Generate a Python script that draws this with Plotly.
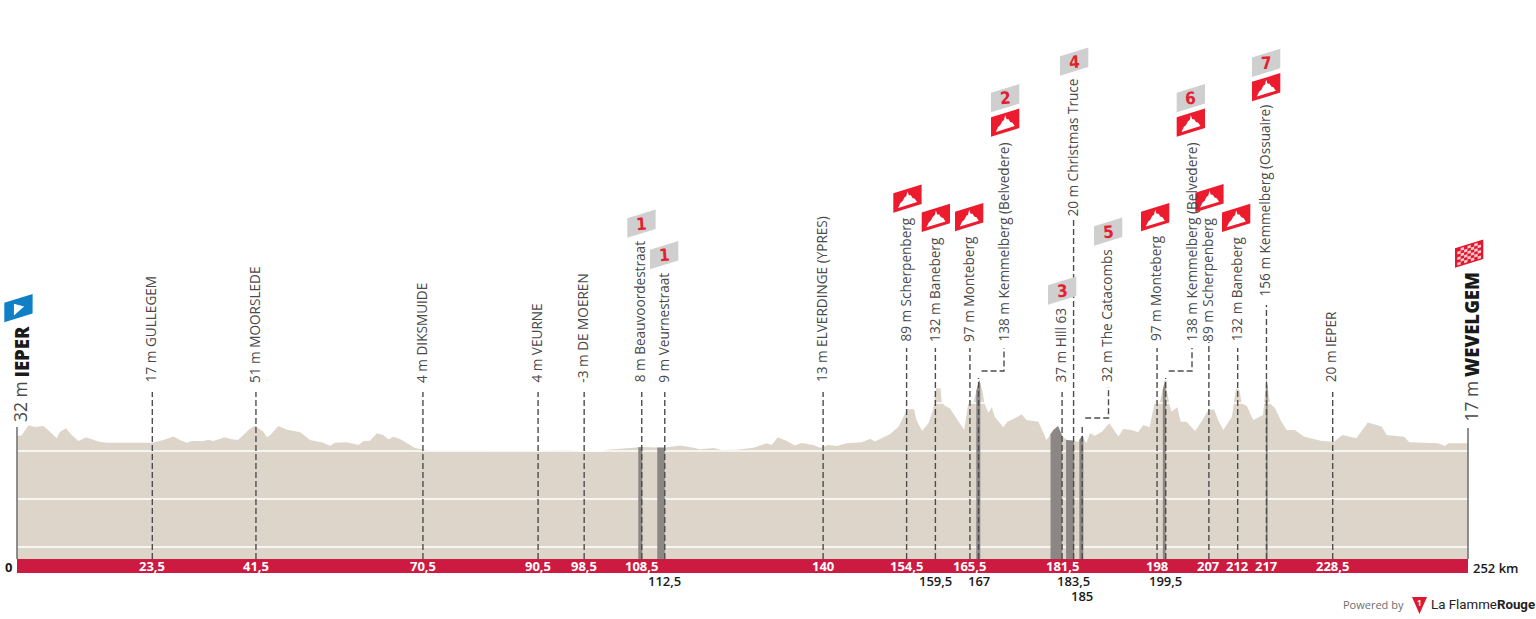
import plotly.graph_objects as go

# ---------- data ----------
profile_km = [0,0.8,2,3.1,4.6,5.4,6.9,7.4,8.5,9.5,10.7,12,14.1,15.6,21.4,23.5,25.4,27.2,28.3,29.5,30.3,32.4,33.2,34.1,36.1,37.3,38.4,40.2,41.3,42.8,43.4,44,45.4,46.8,49.2,50.9,53.2,54.4,55.2,57.3,59.3,60.2,61.3,62.5,63.6,64.5,65.4,66.5,68,69.1,70.3,71.7,83.9,90.5,95.5,98.4,101.3,102.4,105.9,108.5,112.3,115.2,117.5,118.6,121,122.4,125,127.9,130.2,131.1,132.1,133.7,135.1,136.3,138.3,139.5,140.9,142.4,144.1,146.7,148.2,149,
 151.6,153.1,154.6,155.8,156.2,157.2,158.3,159.1,159.6,160.4,160.6,161.2,162,163.2,164.5,165.2,165.5,166.1,166.8,167.1,167.7,168,168.7,169.3,169.8,171.3,172,173.3,174.5,175.3,177.4,178.8,180,180.8,181.4,182.3,183.6,184.3,185,185.7,186.35,187.2,188.4,189.7,191.3,192.1,193.6,194.7,195.6,196.7,197.6,198.5,199.4,200.1,200.5,201.5,202.1,203.1,204.6,205.7,206.9,207.9,208.6,209.5,211,211.7,212.3,212.7,213.6,214.7,216.4,217,217.6,218.5,219.6,220.5,221.9,
 223.6,226.6,228.7,230.2,232.6,234.6,237,237.9,240.9,241.8,246.8,248,248.6,252]
profile_m = [31,33,53.5,50,52,44,26.5,39,47.3,33.4,21,28.6,20,17.4,17.4,17,23,30,23,17.4,21,21,23.6,21,28.6,24.4,23,43.8,53,40,28.6,33.4,52,45,39,23,17.4,11,17.4,18,12.5,21,21.5,37,33.4,24.4,29.7,25,14.7,6.3,3.5,0.7,0,0,2,-2,-2,2.8,5.6,8.3,7,11.2,7,3.5,6.4,2.2,2.8,7,16,12.5,28.6,21,11.2,16.7,12.5,7,12.5,10.4,16,18,25.4,20,
 34.7,50.7,86.8,86.8,64.6,42.4,57.6,85.4,130.5,130.5,101.4,93.7,88.9,68,43.8,99.3,106,100.7,134,148,123.6,99.3,79.9,91,71.5,49.3,61,68,76.4,64.6,61,23,43.8,52,33.3,23,21.5,19,33,16,37,32,40,57.6,30,45.8,43.8,39,54,49.3,102.8,102.8,148,99.3,82,91,61,61,41.7,61,85.4,86.8,64.6,43.8,71.5,130.5,127,99.3,93.7,64.6,75,151,99.3,89,61,43.8,43.7,
 29.7,20.8,19.4,33.4,26.5,59.6,50.8,33.4,29.7,18,16,10.4,16,16]

sector_starts = [107.9,111.2,166.6,179.5,182.2,184.5,199.0,216.9]
sector_ends   = [108.6,112.5,167.3,181.5,183.6,185.2,199.5,217.2]

stop_km = [23.5,41.5,70.5,90.5,98.5,108.5,112.5,140,154.5,159.5,165.5,167,181.5,183.5,185,198,199.5,207,212,217,228.5]
stop_names = ["17 m GULLEGEM","51 m MOORSLEDE","4 m DIKSMUIDE","4 m VEURNE","-3 m DE MOEREN","8 m Beauvoordestraat","9 m Veurnestraat","13 m ELVERDINGE (YPRES)","89 m Scherpenberg","132 m Baneberg","97 m Monteberg","138 m Kemmelberg (Belvedere)","37 m Hill 63","20 m Christmas Truce","32 m The Catacombs","97 m Monteberg","138 m Kemmelberg (Belvedere)","89 m Scherpenberg","132 m Baneberg","156 m Kemmelberg (Ossuaire)","20 m IEPER"]
km_labels = ["23,5","41,5","70,5","90,5","98,5","108,5","112,5","140","154,5","159,5","165,5","167","181,5","183,5","185","198","199,5","207","212","217","228,5"]
km_label_row = [0,0,0,0,0,0,1,0,0,1,0,1,0,1,2,0,1,0,0,0,0]
grid_m = [100,0,-100,-200]
total_km = 252

# ---------- layout constants ----------
W, H = 1536, 619
KM_PX = (1468-17)/252
M_PX = 0.48
Y0_PX = 451
def ym(py): return (Y0_PX-py)/M_PX
def xk(px): return (px-17)/KM_PX
def pxk(km): return 17+km*KM_PX
def fx(px): return px/W
def fy(py): return 1-py/H
BASE = ym(559)
BAR_BOTTOM = ym(573)
FONT = "Open Sans"
SAND, RED, GREY, DASH = "#ddd5ca", "#cc1a40", "#8b8785", "#4d4d4d"

label_bottom = [383,383,383,383,383,383,383,383,342,342,342,342,383,217,383,342,342,342,342,297,383]
line_top     = [392,392,392,392,392,392,392,392,348,348,348,378,392,218,425,348,378,342,348,305,392]
label_px     = {167:1004,185:1108.5,199.5:1192}
elbow_py     = {167:371,185:418,199.5:371}
elbow_top    = {167:348,185:387,199.5:348}

fig = go.Figure()
fig.add_trace(go.Scatter(x=profile_km+[total_km,0], y=profile_m+[BASE,BASE], mode="lines", fill="toself",
                         fillcolor=SAND, line=dict(width=0), hoverinfo="skip"))
for g in grid_m:
    fig.add_trace(go.Scatter(x=[0,total_km], y=[g,g], mode="lines", line=dict(color="white", width=1.6), hoverinfo="skip"))

def interp(k):
    for i in range(len(profile_km)-1):
        a,b = profile_km[i],profile_km[i+1]
        if a<=k<=b:
            return profile_m[i]+(profile_m[i+1]-profile_m[i])*(k-a)/(b-a)
    return profile_m[-1]
for s,e in zip(sector_starts, sector_ends):
    inner = [(k,m) for k,m in zip(profile_km,profile_m) if s<k<e]
    xs = [s]+[p[0] for p in inner]+[e]
    ys = [interp(s)]+[p[1] for p in inner]+[interp(e)]
    fig.add_trace(go.Scatter(x=xs+[e,s], y=ys+[BASE,BASE], mode="lines", fill="toself", fillcolor=GREY,
                             line=dict(width=0), hoverinfo="skip"))

fig.add_trace(go.Scatter(x=[0,total_km,total_km,0], y=[BASE,BASE,BAR_BOTTOM,BAR_BOTTOM], mode="lines", fill="toself",
                         fillcolor=RED, line=dict(width=0), hoverinfo="skip"))

for k,m in ((0,ym(427)),(total_km,ym(428))):
    fig.add_trace(go.Scatter(x=[k,k], y=[BASE,m], mode="lines", line=dict(color="#6b6b6b", width=1.5), hoverinfo="skip"))

ann = []
def text(px, py, t, size, color="#4a4a4a", angle=0, xa="center", ya="middle", weight=None, family=FONT):
    ann.append(dict(xref="paper", yref="paper", x=fx(px), y=fy(py), text=t, showarrow=False, textangle=angle,
                    xanchor=xa, yanchor=ya, borderpad=0, font=dict(family=family, size=size, color=color, weight=weight)))

for i,(k,name) in enumerate(zip(stop_km, stop_names)):
    lx = label_px.get(k, pxk(k))
    if k in elbow_py:
        e = ym(elbow_py[k])
        xs = [k,k,None,xk(pxk(k)+3),xk(lx),xk(lx)]
        ys = [BASE,ym(line_top[i]),None,e,e,ym(elbow_top[k])]
    else:
        xs = [k,k]; ys = [BASE,ym(line_top[i])]
    fig.add_trace(go.Scatter(x=xs, y=ys, mode="lines", line=dict(color=DASH, width=1.4, dash="6px,3px"), hoverinfo="skip"))
    text(lx-1.5, label_bottom[i]+0.5, name, 13.6, angle=-90, ya="bottom")
    row = km_label_row[i]
    if row == 0:
        text(pxk(k), 566, km_labels[i], 13, color="white", weight=700)
    else:
        text(pxk(k), 581 if row == 1 else 596, km_labels[i], 13, color="#1a1a1a", weight=600)

text(8, 567, "0", 13, color="#1a1a1a", weight=700)
text(1496, 568, "252 km", 13, color="#1a1a1a", weight=600)
text(19.5, 423, "32 m", 17.5, angle=-90, ya="bottom")
text(20.5, 378.5, "IEPER", 18.5, color="#1a1a1a", angle=-90, ya="bottom", weight=800)
text(1470, 423, "17 m", 17.5, angle=-90, ya="bottom")
text(1471, 378.5, "WEVELGEM", 18.5, color="#1a1a1a", angle=-90, ya="bottom", weight=800)

FW, FH, FR = 28.3, 19.5, 8.7
def uv(x0,y0,u,v):
    return fx(x0+FW*u), fy(y0-FR*u-FH*v)
def poly(x0,y0,pts):
    c = [uv(x0,y0,u,v) for u,v in pts]
    return "M "+" L ".join(f"{a:.5f},{b:.5f}" for a,b in c)+" Z"
shapes = []
def shape(path,color):
    shapes.append(dict(type="path", xref="paper", yref="paper", path=path, fillcolor=color, line=dict(width=0), layer="above"))
RECT = [(0,0),(1,0),(1,1),(0,1)]
MOUNT = [(.17,.17),(.25,.38),(.33,.45),(.4,.62),(.46,.65),(.5,.88),(.55,.65),(.62,.62),(.68,.45),(.76,.38),(.84,.17)]
red_flags = [(893.3,212.7),(921.7,232),(955,231.3),(991,136.7),(1141,231.3),(1176.7,136.7),(1195.3,212.3),(1222,232),(1252,101.3)]
for x0,y0 in red_flags:
    shape(poly(x0,y0,RECT),"#ec1c2e")
    shape(poly(x0,y0,MOUNT),"white")
grey_flags = [(627.3,237.7,"1"),(650,269.3,"1"),(991,112.3,"2"),(1048,304.7,"3"),(1060,75.7,"4"),(1094,245.7,"5"),(1176.7,112.3,"6"),(1252,77,"7")]
for x0,y0,n in grey_flags:
    shape(poly(x0,y0,RECT),"#cfcfcf")
    cx,cy = x0+FW/2, y0-FR/2-FH/2
    text(cx,cy,n,17,color="#e3202f",angle=-4,weight=800,family="DejaVu Sans Condensed")
shape(poly(4.3,322.3,RECT),"#0f7fc6")
shape(poly(4.3,322.3,[(.34,.2),(.34,.8),(.7,.5)]),"white")
shape(poly(1455,267.7,RECT),"#e0182f")
cols, rows = 7, 6
sub = ""
for i in range(cols):
    for j in range(rows):
        if (i+j)%2==0:
            u0,u1 = .08+i*.84/cols, .08+(i+1)*.84/cols
            v0,v1 = .08+j*.84/rows, .08+(j+1)*.84/rows
            sub += poly(1455,267.7,[(u0,v0),(u1,v0),(u1,v1),(u0,v1)])+" "
shape(sub.strip(),"#f6c9cd")

text(1342,604,"Powered by",11,color="#6e6e6e",xa="left")
shapes.append(dict(type="path", xref="paper", yref="paper",
    path=f"M {fx(1412):.5f},{fy(597):.5f} L {fx(1427):.5f},{fy(597):.5f} L {fx(1419.5):.5f},{fy(614):.5f} Z",
    fillcolor="#e0182f", line=dict(width=0), layer="above"))
text(1419.5,602,"1",8,color="white",weight=700)
text(1429.5,604,'La Flamme<b>Rouge</b>',13.3,color="#222222",xa="left",family="Roboto")

fig.update_layout(width=W, height=H, margin=dict(l=0,r=0,t=0,b=0), showlegend=False,
    paper_bgcolor="white", plot_bgcolor="white", shapes=shapes, annotations=ann,
    xaxis=dict(visible=False, range=[xk(0),xk(W)], fixedrange=True),
    yaxis=dict(visible=False, range=[ym(H),ym(0)], fixedrange=True))
fig.write_html("out.html", post_script="document.body.style.margin='0';", config=dict(displayModeBar=False))
